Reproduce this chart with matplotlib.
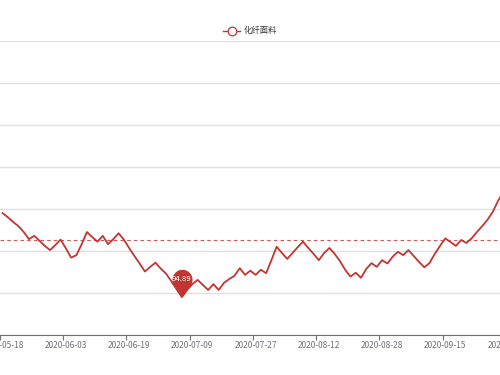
import numpy as np
import pandas as pd
import matplotlib
matplotlib.use("Agg")
import matplotlib.pyplot as plt
from matplotlib.path import Path
from matplotlib.lines import Line2D

plt.rcParams['font.family'] = ['Noto Sans CJK SC', 'DejaVu Sans']
plt.rcParams['lines.scale_dashes'] = False

# ---------------- data ----------------
series_name = "化纤面料"
holidays = pd.to_datetime(["2020-06-25", "2020-06-26",
                           "2020-10-01", "2020-10-02", "2020-10-05",
                           "2020-10-06", "2020-10-07", "2020-10-08"])
trading_days = pd.bdate_range("2020-05-18", "2020-10-20")
dates = [d.strftime("%Y-%m-%d") for d in trading_days if d not in holidays][:97]

values = [
    96.89, 96.79, 96.68, 96.58, 96.44, 96.27, 96.35, 96.23, 96.11, 96.01,
    96.13, 96.26, 96.05, 95.83, 95.89, 96.15, 96.44, 96.32, 96.21, 96.35,
    96.15, 96.27, 96.41, 96.26, 96.06, 95.87, 95.69, 95.50, 95.61, 95.71,
    95.57, 95.45, 95.27, 95.08, 94.89, 95.06, 95.20, 95.30, 95.18, 95.06,
    95.20, 95.06, 95.23, 95.32, 95.40, 95.58, 95.42, 95.52, 95.42, 95.54,
    95.46, 95.77, 96.09, 95.94, 95.80, 95.94, 96.08, 96.21, 96.06, 95.92,
    95.77, 95.94, 96.06, 95.92, 95.75, 95.54, 95.38, 95.47, 95.35, 95.56,
    95.70, 95.61, 95.77, 95.69, 95.85, 95.97, 95.89, 96.01, 95.87, 95.73,
    95.60, 95.70, 95.92, 96.11, 96.29, 96.20, 96.11, 96.25, 96.18, 96.29,
    96.44, 96.58, 96.73, 96.92, 97.18, 97.39,
]
average_value = 96.26
y_min, y_max, y_step = 94, 101, 1
label_every = 12

# ---------------- style ----------------
line_color = "#c23531"
grid_color = "#e0e0e0"
axis_color = "#6e7079"
label_color = "#6e7079"

fig = plt.figure(figsize=(5, 3.75), dpi=100)
# axes extends beyond the right edge (chart is cropped)
n_cat = len(dates)
band_px = 5.27
ax_w = n_cat * band_px / 500.0
ax = fig.add_axes([0.0, 1 - 334.5 / 375, ax_w, (334.5 - 40.5) / 375])

x = np.arange(len(values))
ax.plot(x, values, color=line_color, lw=1.3, solid_joinstyle='round', zorder=3)

# average line
ax.axhline(average_value, color=line_color, lw=0.8, alpha=0.8,
           dashes=(2.6, 2.2), zorder=2)

ax.set_xlim(-0.5, n_cat - 0.5)
ax.set_ylim(y_min, y_max)
ax.set_yticks(np.arange(y_min, y_max + y_step / 2, y_step))
ax.yaxis.grid(True, color=grid_color, lw=1.0, zorder=0)
ax.tick_params(axis='y', left=False, labelleft=False)

label_idx = list(range(0, n_cat, label_every))
ax.set_xticks(label_idx)
ax.set_xticklabels([dates[i] for i in label_idx], fontsize=6.0, color=label_color)
ax.tick_params(axis='x', which='major', length=0, pad=4.5)
ax.set_xticks([i - 0.5 for i in label_idx], minor=True)
ax.tick_params(axis='x', which='minor', length=3.6, width=0.8, color=axis_color)

for s in ['left', 'right', 'top']:
    ax.spines[s].set_visible(False)
ax.spines['bottom'].set_color(axis_color)
ax.spines['bottom'].set_linewidth(0.8)
ax.set_axisbelow(True)

# min marker (pin)
min_i = int(np.argmin(values))
min_v = values[min_i]
r, c = 1.0, 1.77
phi = np.arccos(r / c)
angles = np.linspace(-np.pi / 2 + phi, -np.pi / 2 - phi + 2 * np.pi, 80)
verts = [(0.0, 0.0)] + [(r * np.cos(a), c + r * np.sin(a)) for a in angles] + [(0.0, 0.0)]
pin = Path(verts, closed=True)
pin_size = 39.9
ax.plot([min_i], [min_v], marker=pin, markersize=pin_size, color=line_color,
        mec='none', ls='none', clip_on=False, zorder=5)
ax.annotate(f"{min_v:.2f}", (min_i, min_v),
            xytext=(0, pin_size / 2 * c / (c + r)), textcoords='offset points',
            ha='center', va='center', color='white', fontsize=5.6, zorder=6)

# legend
handle = Line2D([], [], color=line_color, lw=1.0, marker='o', markersize=6.2,
                mfc='white', mec=line_color, mew=0.9)
fig.legend(handles=[handle], labels=[series_name], loc='center',
           bbox_to_anchor=(0.5, 1 - 31 / 375), frameon=False, fontsize=6.0,
           handlelength=2.1, handletextpad=0.4, labelcolor='#333333')

fig.savefig("out.png", dpi=100)
